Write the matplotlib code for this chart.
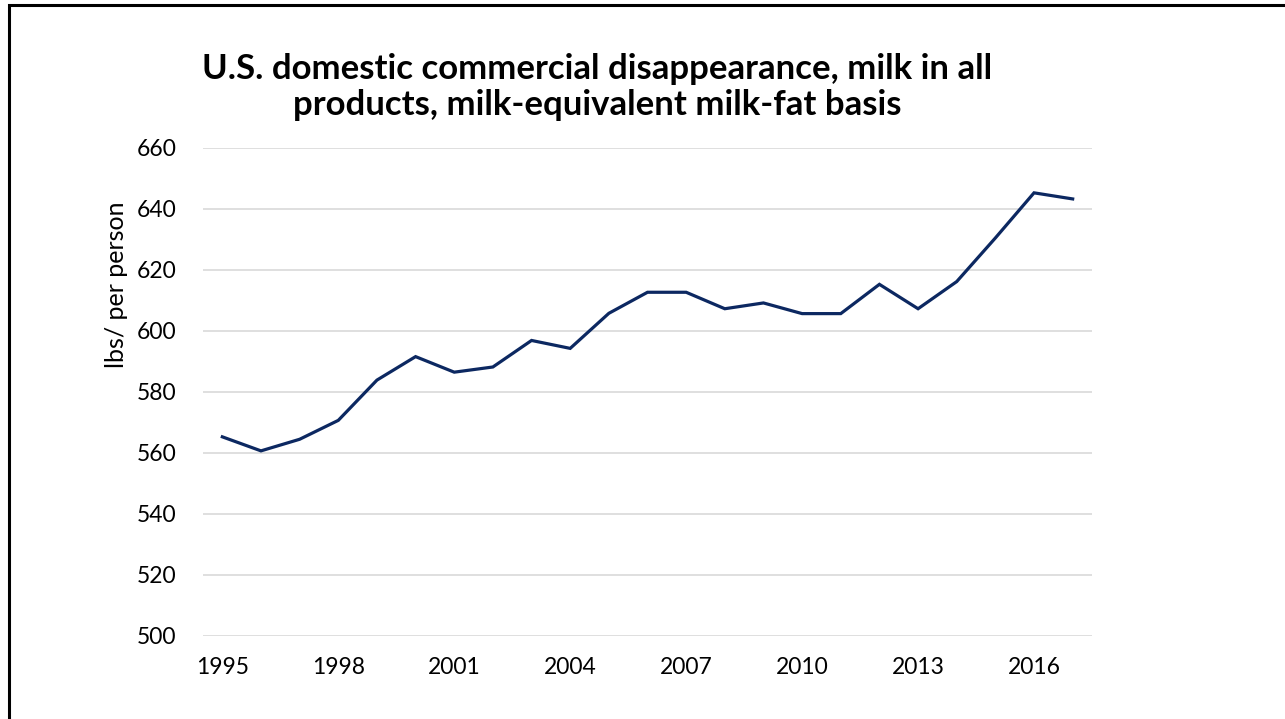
import matplotlib
matplotlib.use("Agg")
import matplotlib.pyplot as plt
from matplotlib.lines import Line2D

# Per-capita disappearance, milk-fat basis (lbs per person)
years = list(range(1995, 2018))
values = [565.3, 560.7, 564.5, 570.7, 583.9, 591.6, 586.5, 588.2, 596.9, 594.3,
          605.8, 612.7, 612.7, 607.3, 609.2, 605.7, 605.7, 615.3, 607.3, 616.2,
          630.5, 645.3, 643.3]
tick_years = [1995, 1998, 2001, 2004, 2007, 2010, 2013, 2016]
y_ticks = [500, 520, 540, 560, 580, 600, 620, 640, 660]

title = ("U.S. domestic commercial disappearance, milk in all\n"
         "products, milk-equivalent milk-fat basis")
ylabel = "lbs/ per person"

plt.rcParams["font.family"] = ["Lato", "DejaVu Sans"]

W, H = 1285, 719
fig = plt.figure(figsize=(W / 100, H / 100), dpi=100)
fig.patch.set_facecolor("white")

ax = fig.add_axes([203 / W, 1 - 636 / H, (1092 - 203) / W, (636 - 148) / H])
x = list(range(len(years)))
ax.plot(x, values, color="#0c2861", linewidth=2.3, solid_joinstyle="miter")

ax.set_xlim(-0.5, len(years) - 0.5)
ax.set_ylim(500, 660)
ax.set_yticks(y_ticks)
ax.set_yticklabels([str(v) for v in y_ticks])
ax.set_xticks([years.index(t) for t in tick_years])
ax.set_xticklabels([str(t) for t in tick_years])
ax.grid(axis="y", color="#d9d9d9", linewidth=1.2)
ax.set_axisbelow(True)
for s in ax.spines.values():
    s.set_visible(False)
ax.tick_params(axis="both", length=0, labelsize=16.5, colors="#000000")
ax.tick_params(axis="y", pad=19)
ax.tick_params(axis="x", pad=15)

fig.text(117 / W, 1 - 285 / H, ylabel, rotation=90, ha="center", va="center",
         fontsize=18)

fig.text(597 / W, 1 - 87 / H, title, ha="center", va="center",
         fontsize=25, fontweight="bold", linespacing=1.12)

# slide frame along the left and top edges
fig.add_artist(Line2D([9 / W, 9 / W, 1.0], [0.0, 1 - 5 / H, 1 - 5 / H],
                      transform=fig.transFigure, color="black", linewidth=2.2,
                      solid_joinstyle="miter"))

fig.savefig("out.png", dpi=100)
